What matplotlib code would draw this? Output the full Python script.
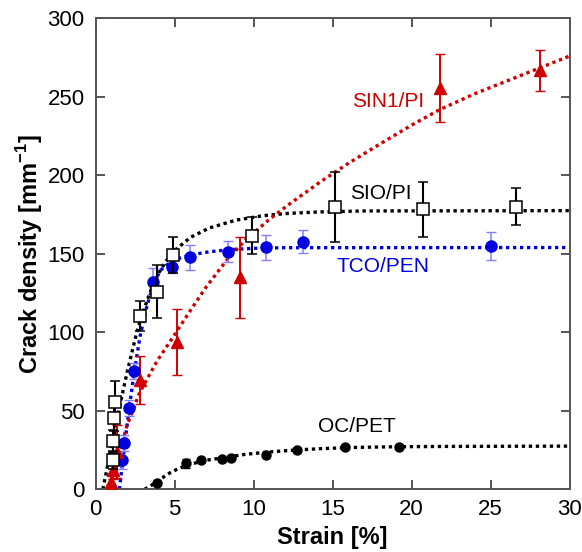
import matplotlib
matplotlib.use('Agg')
import matplotlib.pyplot as plt

plt.rcParams['font.family'] = ['Liberation Sans', 'DejaVu Sans']
plt.rcParams['mathtext.fontset'] = 'custom'
plt.rcParams['mathtext.rm'] = 'Liberation Sans'
plt.rcParams['mathtext.bf'] = 'Liberation Sans:bold'

# --- measured points (strain %, crack density 1/mm, error) ---
sio_x = [1.07, 1.11, 1.16, 1.22, 2.8, 3.9, 4.9, 9.87, 15.15, 20.7, 26.6]
sio_y = [18.7, 30.8, 45.2, 55.8, 110.4, 125.9, 149.5, 161.5, 179.6, 178.3, 180.0]
sio_err = [6, 7, 8, 13, 9.5, 17, 11.5, 11.7, 22.2, 17.7, 11.8]

tco_x = [1.68, 1.81, 2.13, 2.42, 3.6, 4.81, 5.97, 8.4, 10.76, 13.14, 25.0]
tco_y = [18.7, 29.3, 51.6, 75.5, 132.2, 141.8, 147.8, 151.3, 154.1, 157.7, 155.0]
tco_err = [6, 5, 5, 5, 8.5, 4, 7.8, 6.7, 7.8, 7.5, 9]

sin_x = [0.95, 1.11, 1.33, 2.8, 5.12, 9.13, 21.8, 28.1]
sin_y = [4.9, 12.3, 24.0, 69.6, 94.0, 135.0, 255.4, 267.0]
sin_err = [5, 6, 17, 15.5, 21, 26, 21.7, 13]

oc_x = [3.9, 5.7, 6.65, 8.0, 8.54, 10.78, 12.76, 15.8, 19.2]
oc_y = [3.8, 16.5, 18.7, 19.3, 20.1, 21.8, 25.0, 27.1, 27.1]
oc_err = [0.5, 3, 1.5, 1, 1, 1.5, 1, 1, 1]

# --- fit curves ---
sio_fit_x = [0.45, 1.0, 1.5, 2.0, 2.6, 3.0, 3.5, 4.0, 4.5, 5.1, 6.0, 7.2, 8.9, 10.6, 12.1, 14.2, 17.0, 30.0]
sio_fit_y = [0, 27, 52, 75, 100, 113, 127, 138, 146, 153, 160.5, 166.5, 171.5, 174.3, 175.7, 176.7, 177.3, 177.5]

tco_fit_x = [1.5, 1.7, 2.0, 2.4, 2.8, 3.2, 3.65, 4.1, 4.7, 5.4, 6.0, 7.2, 8.4, 10.0, 12.0, 30.0]
tco_fit_y = [0, 17, 42, 72, 97, 115, 131, 139.5, 144.5, 147.5, 149.3, 151.3, 152.6, 153.5, 153.9, 154.0]

sin_fit_x = [0.9, 1.4, 1.96, 2.8, 3.9, 4.9, 6.0, 7.0, 8.3, 9.5, 11.0, 12.3, 14.2, 16.0, 18.0, 20.0, 21.8, 24.0, 26.0, 28.0, 30.0]
sin_fit_y = [0, 20, 40, 62, 82, 97, 114, 129, 146, 159, 172, 182, 195.7, 207.7, 220, 232, 242, 252, 260, 268, 276]

oc_fit_x = [3.1, 3.6, 4.1, 4.7, 5.3, 6.0, 7.0, 8.3, 9.5, 11.0, 12.6, 14.5, 16.5, 19.0, 22.0, 30.0]
oc_fit_y = [0, 3, 6.5, 10.5, 13.5, 16, 18.5, 20.5, 22.3, 23.8, 25, 26, 26.7, 27.1, 27.3, 27.5]

RED = '#d00000'
BLUE = '#0000e0'
LBLUE = '#8080ff'
DOT = (0, (1, 1.1))

fig = plt.figure(figsize=(5.82, 5.52), dpi=100)
ax = fig.add_axes([0.1644, 0.1136, 0.8145, 0.8532])

# fit curves
ax.plot(sio_fit_x, sio_fit_y, color='black', lw=2.4, ls=DOT, zorder=2)
ax.plot(tco_fit_x, tco_fit_y, color=BLUE, lw=2.4, ls=DOT, zorder=2)
ax.plot(sin_fit_x, sin_fit_y, color=RED, lw=2.4, ls=DOT, zorder=2)
ax.plot(oc_fit_x, oc_fit_y, color='black', lw=2.4, ls=DOT, zorder=2)

# data with error bars
ax.errorbar(oc_x, oc_y, yerr=oc_err, fmt='o', ms=6.5, color='black',
            ecolor='black', elinewidth=1.3, capsize=3, zorder=3)
ax.errorbar(tco_x, tco_y, yerr=tco_err, fmt='o', ms=8, color=BLUE,
            ecolor=LBLUE, elinewidth=1.1, capsize=3.5, zorder=3)
ax.errorbar(sin_x, sin_y, yerr=sin_err, fmt='^', ms=9, color=RED,
            ecolor=RED, elinewidth=1.4, capsize=3.5, zorder=3)
ax.errorbar(sio_x, sio_y, yerr=sio_err, fmt='s', ms=8, mfc='white', mec='black',
            mew=1.1, ecolor='black', elinewidth=1.5, capsize=3.5, zorder=4)

# series labels
ax.text(16.2, 247, 'SIN1/PI', color=RED, fontsize=15, va='center', ha='left')
ax.text(16.1, 188.5, 'SIO/PI', color='black', fontsize=15, va='center', ha='left')
ax.text(15.25, 141.8, 'TCO/PEN', color=BLUE, fontsize=15, va='center', ha='left')
ax.text(14.1, 40.3, 'OC/PET', color='black', fontsize=15, va='center', ha='left')

ax.set_xlim(0, 30)
ax.set_ylim(0, 300)
ax.set_xticks([0, 5, 10, 15, 20, 25, 30])
ax.set_yticks([0, 50, 100, 150, 200, 250, 300])

ax.set_xlabel('Strain [%]', fontsize=17, fontweight='bold', labelpad=4)
ax.set_ylabel(r'Crack density [mm$^{\mathbf{-1}}$]', fontsize=17, fontweight='bold', labelpad=2)

for s in ax.spines.values():
    s.set_color('#555555')
    s.set_linewidth(1.4)
ax.tick_params(direction='in', length=6.5, width=1.4, color='#555555',
               labelsize=16, top=True, right=True, labeltop=False, labelright=False)
ax.tick_params(axis='x', pad=7)
ax.tick_params(axis='y', pad=8)

fig.savefig('out.png', dpi=100, facecolor='white')
